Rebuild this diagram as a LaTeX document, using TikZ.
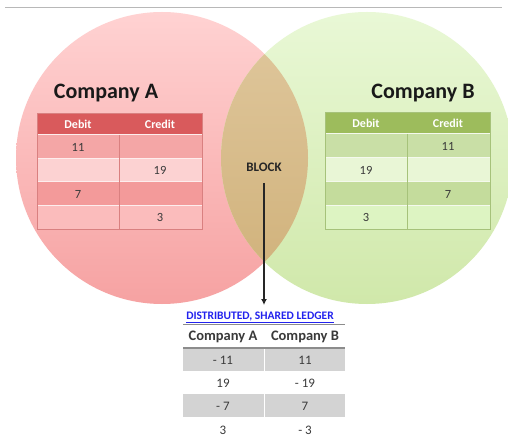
\documentclass[tikz,border=0pt]{standalone}
\usepackage{fontspec}
\setmainfont{Carlito}
\usetikzlibrary{arrows.meta}
\definecolor{redhead}{HTML}{D95A5C}
\definecolor{redA}{HTML}{F4A6A6}
\definecolor{redB}{HTML}{FCD2D2}
\definecolor{redC}{HTML}{F39A9A}
\definecolor{redD}{HTML}{FBBCBC}
\definecolor{reddiv}{HTML}{D98080}
\definecolor{grnhead}{HTML}{9DBC5C}
\definecolor{grnA}{HTML}{C9DFA6}
\definecolor{grnB}{HTML}{E9F6D6}
\definecolor{grnC}{HTML}{C4DC9C}
\definecolor{grnD}{HTML}{DDF4C2}
\definecolor{grndiv}{HTML}{A6C27A}
\definecolor{numtxt}{HTML}{3A3A3A}
\definecolor{ledgray}{HTML}{D3D3D3}
\definecolor{linkblue}{HTML}{2222EE}
\definecolor{cAtop}{HTML}{FFD2D2}
\definecolor{cAbot}{HTML}{F6A2A2}
\definecolor{cBtop}{HTML}{E9F8D6}
\definecolor{cBbot}{HTML}{D0E8AA}
\definecolor{lenstop}{HTML}{E0C89E}
\definecolor{lensbot}{HTML}{CFB078}
\tikzset{
  num/.style={font=\fontsize{12.5}{14}\selectfont, text=numtxt, inner sep=0pt},
  headtxt/.style={font=\bfseries\fontsize{12}{14}\selectfont, text=white, inner sep=0pt},
  title/.style={font=\bfseries\fontsize{22}{26}\selectfont, text=black!90, inner sep=0pt},
  ledhead/.style={font=\bfseries\fontsize{14.5}{17}\selectfont, text=numtxt, inner sep=0pt},
  ledval/.style={font=\fontsize{13}{15}\selectfont, text=numtxt, inner sep=0pt},
}
\begin{document}
\begin{tikzpicture}[x=1pt,y=-1pt]
\useasboundingbox (0,0) rectangle (508,438);
\fill[white] (0,0) rectangle (508,438);
% top rule
\draw[black!28, line width=1pt] (5,8) -- (502,8);
% circles
\node[circle, minimum size=292pt, inner sep=0pt, top color=cAtop, bottom color=cAbot] (cA) at (162,158) {};
\node[circle, minimum size=292pt, inner sep=0pt, top color=cBtop, bottom color=cBbot] (cB) at (367,158) {};
\begin{scope}
  \clip (162,158) circle (146);
  \shade[top color=lenstop, bottom color=lensbot] (367,158) circle (146);
\end{scope}
% titles
\node[title] (tA) at (106,93) {Company A};
\node[title] (tB) at (423,93) {Company B};
% table A
\fill[redhead] (37,113) rectangle (202,135);
\fill[redA] (37,135) rectangle (202,158.5);
\fill[redB] (37,158.5) rectangle (202,182);
\fill[redC] (37,182) rectangle (202,205.5);
\fill[redD] (37,205.5) rectangle (202,229);
\foreach \yy in {135,158.5,182,205.5} \draw[white!80!redA, line width=1pt] (37,\yy) -- (202,\yy);
\draw[reddiv, line width=0.7pt] (119,135) -- (119,229);
\draw[reddiv, line width=0.6pt] (37,113) rectangle (202,229);
\node[headtxt] (aH1) at (78,124) {Debit};
\node[headtxt] (aH2) at (160,124) {Credit};
\node[num] (a1) at (78,147) {11};
\node[num] (a2) at (160,170) {19};
\node[num] (a3) at (78,194) {7};
\node[num] (a4) at (160,217) {3};
% table B
\fill[grnhead] (325,112) rectangle (490,134);
\fill[grnA] (325,134) rectangle (490,158);
\fill[grnB] (325,158) rectangle (490,182);
\fill[grnC] (325,182) rectangle (490,205.5);
\fill[grnD] (325,205.5) rectangle (490,229);
\foreach \yy in {134,158,182,205.5} \draw[white!80!grnA, line width=1pt] (325,\yy) -- (490,\yy);
\draw[grndiv, line width=0.7pt] (407,134) -- (407,229);
\draw[grndiv, line width=0.6pt] (325,112) rectangle (490,229);
\node[headtxt] (bH1) at (366,123) {Debit};
\node[headtxt] (bH2) at (448,123) {Credit};
\node[num] (b1) at (448,146) {11};
\node[num] (b2) at (366,170) {19};
\node[num] (b3) at (448,194) {7};
\node[num] (b4) at (366,217) {3};
% block + arrow
\node[font=\bfseries\fontsize{13}{15}\selectfont, text=black!85, inner sep=0pt] (block) at (264,167) {BLOCK};
\coordinate (astart) at (264,183);
\coordinate (aend) at (264,305);
\draw[black!85, line width=1.5pt, -{Latex[length=6pt,width=6pt]}] (astart) -- (aend);
% ledger
\node[font=\bfseries\fontsize{11.5}{13}\selectfont, text=linkblue, inner sep=0pt] (ltitle) at (260,316.5) {DISTRIBUTED, SHARED LEDGER};
\draw[linkblue, line width=0.6pt] ([yshift=-1.2pt]ltitle.south west) -- ([yshift=-1.2pt]ltitle.south east);
\draw[black!45, line width=1.3pt] (183,324.5) -- (345,324.5);
\node[ledhead] (lA) at (223,337) {Company A};
\node[ledhead] (lB) at (305,337) {Company B};
\fill[ledgray] (183,348) rectangle (345,371);
\fill[ledgray] (183,394) rectangle (345,417);
\draw[black!45, line width=2pt] (183,348) -- (345,348);
\draw[white, line width=0.8pt] (264,349) -- (264,371) (264,394) -- (264,417);
\node[ledval] (l1a) at (223,360) {- 11};
\node[ledval] (l1b) at (305,360) {11};
\node[ledval] (l2a) at (223,383) {19};
\node[ledval] (l2b) at (305,383) {- 19};
\node[ledval] (l3a) at (223,406) {- 7};
\node[ledval] (l3b) at (305,406) {7};
\node[ledval] (l4a) at (223,430) {3};
\node[ledval] (l4b) at (305,430) {- 3};
\end{tikzpicture}
\end{document}
